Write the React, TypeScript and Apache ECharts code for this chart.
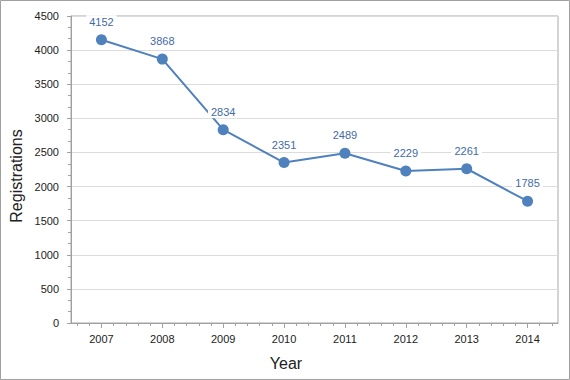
import React, { useEffect, useRef } from "react";
import * as echarts from "echarts";

const years = ["2007", "2008", "2009", "2010", "2011", "2012", "2013", "2014"];
const registrations = [4152, 3868, 2834, 2351, 2489, 2229, 2261, 1785];
const yMin = 0;
const yMax = 4500;
const yStep = 500;
const xTitle = "Year";
const yTitle = "Registrations";

export default function App() {
  const ref = useRef<HTMLDivElement>(null);
  useEffect(() => {
    document.body.style.margin = "0";
    const chart = echarts.init(ref.current!, null, { renderer: "svg" });
    const minorCats = Array.from({ length: years.length * 5 }, (_, i) => "m" + i);
    const font = "'Liberation Sans', Arial, sans-serif";
    chart.setOption({
      animation: false,
      backgroundColor: "#ffffff",
      grid: {
        left: 71,
        top: 16,
        right: 12,
        bottom: 57,
        show: true,
        borderColor: "#a8a8a8",
        borderWidth: 1,
        backgroundColor: "transparent",
      },
      xAxis: [
        {
          type: "category",
          data: years,
          boundaryGap: true,
          axisLine: { show: true, lineStyle: { color: "#a0a0a0", width: 1 } },
          axisTick: { show: true, alignWithLabel: true, length: 5, lineStyle: { color: "#a0a0a0" } },
          axisLabel: { color: "#222", fontSize: 11, fontFamily: font, margin: 10 },
          splitLine: { show: false },
        },
        {
          type: "category",
          data: minorCats,
          position: "bottom",
          boundaryGap: true,
          axisLine: { show: false },
          axisTick: { show: true, alignWithLabel: true, interval: 0, length: 3, lineStyle: { color: "#a0a0a0" } },
          axisLabel: { show: false },
          splitLine: { show: false },
        },
      ],
      yAxis: {
        type: "value",
        min: yMin,
        max: yMax,
        interval: yStep,
        axisLine: { show: true, lineStyle: { color: "#a0a0a0", width: 1 } },
        axisTick: { show: true, length: 4, lineStyle: { color: "#a0a0a0" } },
        minorTick: { show: true, splitNumber: 3, length: 3, lineStyle: { color: "#a0a0a0" } },
        axisLabel: {
          color: "#222",
          fontSize: 11,
          fontFamily: font,
          margin: 12,
          formatter: (v: number) => String(v),
        },
        splitLine: { show: true, lineStyle: { color: "#dcdcdc", width: 1 } },
      },
      graphic: [
        {
          type: "rect",
          shape: { x: 0.5, y: 0.5, width: 569, height: 379 },
          style: { fill: "none", stroke: "#a0a0a0", lineWidth: 1 },
          silent: true,
        },
        {
          type: "text",
          x: 286,
          y: 363,
          style: {
            text: xTitle,
            fontSize: 16,
            fontFamily: font,
            fill: "#222",
            align: "center",
            verticalAlign: "middle",
          },
        },
        {
          type: "text",
          x: 16,
          y: 176,
          rotation: Math.PI / 2,
          style: {
            text: yTitle,
            fontSize: 16,
            fontFamily: font,
            fill: "#222",
            align: "center",
            verticalAlign: "middle",
          },
        },
      ],
      series: [
        {
          type: "line",
          data: registrations,
          xAxisIndex: 0,
          symbol: "circle",
          symbolSize: 11,
          lineStyle: { color: "#4f81bd", width: 2 },
          itemStyle: { color: "#4f81bd" },
          label: {
            show: true,
            position: "top",
            distance: 6,
            color: "#3f6ba8",
            fontSize: 11,
            fontFamily: font,
            backgroundColor: "#ffffff",
            padding: [1, 3],
          },
          z: 3,
        },
      ],
    });
    return () => chart.dispose();
  }, []);
  return <div ref={ref} style={{ position: "absolute", left: 0, top: 0, width: 570, height: 380 }} />;
}
